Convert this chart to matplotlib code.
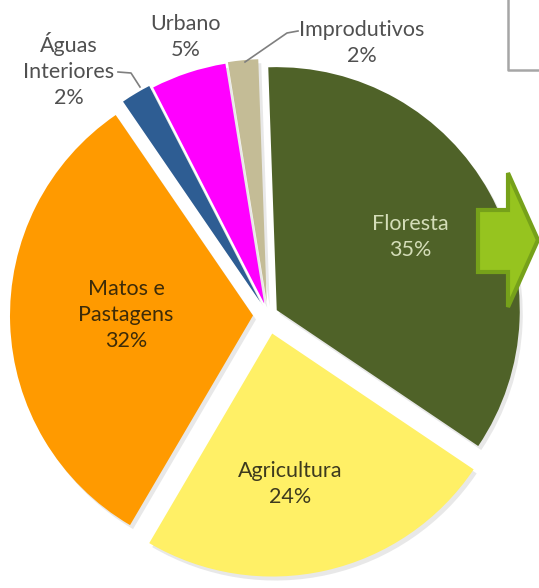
import matplotlib.pyplot as plt
from matplotlib.patches import Polygon

# Data
categories = ["Floresta", "Agricultura", "Matos e\nPastagens", "Águas\nInteriores", "Urbano", "Improdutivos"]
values = [35, 24, 32, 2, 5, 2]
colors = ["#4F6228", "#FFF066", "#FF9A00", "#2E5D93", "#FF00FF", "#C4BC96"]
explode = [10, 19, 15, 15, 12, 13]   # in pixels (data units)

W, H = 539, 588
plt.rcParams['font.family'] = ['Lato', 'DejaVu Sans']

fig = plt.figure(figsize=(W / 100, H / 100), dpi=100)
ax = fig.add_axes([0, 0, 1, 1])

def fy(y):
    return H - y

cx, cy, R = 268, 315, 243

# soft shadow behind the slices
ax.pie(values, explode=explode, colors=["#d9d9d9"] * len(values), startangle=92,
       counterclock=False, radius=R, center=(cx + 3, fy(cy) - 4),
       wedgeprops=dict(linewidth=0, alpha=0.6))
ax.pie(values, explode=explode, colors=colors, startangle=92,
       counterclock=False, radius=R, center=(cx, fy(cy)),
       wedgeprops=dict(linewidth=0))

# labels
label_pos = [(410, 237), (290, 484), (126, 315), (69, 70), (186, 37), (362, 43)]
label_col = ["#D4DDB8", "#3D3A1E", "#3D2B08", "#505050", "#505050", "#505050"]
for name, v, (x, y), c in zip(categories, values, label_pos, label_col):
    ax.text(x, fy(y), f"{name}\n{v}%", ha="center", va="center", fontsize=15.5,
            color=c, linespacing=1.4)

# leader lines
ax.plot([118, 131, 140], [fy(72), fy(73), fy(87)], color="#7f7f7f", lw=1.2)
ax.plot([298, 287, 245], [fy(31), fy(33), fy(62)], color="#7f7f7f", lw=1.2)

# box corner at top right
ax.plot([508, 508, W], [fy(0), fy(70), fy(70)], color="#a6a6a6", lw=1.8)

# green arrow
arrow = Polygon([(478, fy(210)), (508, fy(210)), (508, fy(173)), (538, fy(240)),
                 (508, fy(307)), (508, fy(272)), (478, fy(272))],
                closed=True, facecolor="#96C41F", edgecolor="#76A11A", lw=3,
                joinstyle="miter")
ax.add_patch(arrow)

ax.set_xlim(0, W)
ax.set_ylim(0, H)
ax.set_aspect("auto")
ax.axis("off")

fig.savefig("out.png", dpi=100, facecolor="white")
